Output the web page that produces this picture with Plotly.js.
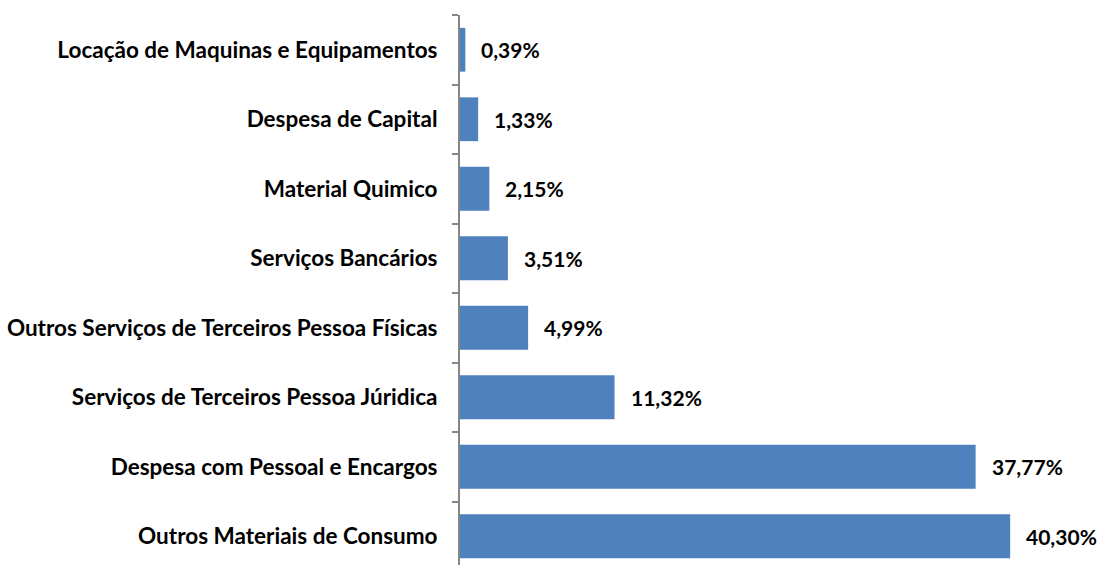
<!DOCTYPE html>
<html>
<head>
<meta charset="utf-8">
<script src="https://cdn.plot.ly/plotly-3.0.1.min.js"></script>
<style>
html, body { margin: 0; padding: 0; overflow: hidden; background: #fff; }
</style>
</head>
<body>
<div id="myDiv"></div>
<script>
// categories, top to bottom
var categorias = [
    'Locação de Maquinas e Equipamentos',
    'Despesa de Capital',
    'Material Quimico',
    'Serviços Bancários',
    'Outros Serviços de Terceiros Pessoa Físicas',
    'Serviços de Terceiros Pessoa Júridica',
    'Despesa com Pessoal e Encargos',
    'Outros Materiais de Consumo'
];
var percentuais = [0.39, 1.33, 2.15, 3.51, 4.99, 11.32, 37.77, 40.30];

var rotulos = percentuais.map(function (v) {
    return v.toFixed(2).replace('.', ',') + '%';
});

var data = [{
    type: 'bar',
    orientation: 'h',
    x: percentuais,
    y: categorias,
    marker: { color: '#4F81BD' },
    hoverinfo: 'none'
}];

var anotacoes = [];
for (var i = 0; i < categorias.length; i++) {
    anotacoes.push({
        x: percentuais[i],
        y: categorias[i],
        text: '<b>' + rotulos[i] + '</b>',
        showarrow: false,
        xanchor: 'left',
        xshift: 14,
        font: { family: 'Lato, sans-serif', size: 21, color: '#000' }
    });
}

var layout = {
    width: 1101,
    height: 571,
    margin: { l: 460, r: 13, t: 15, b: 0 },
    paper_bgcolor: '#fff',
    plot_bgcolor: '#fff',
    showlegend: false,
    bargap: 0.37,
    font: { family: 'Lato, sans-serif', size: 18, color: '#000' },
    xaxis: {
        range: [0, 46],
        visible: false,
        showgrid: false,
        zeroline: false
    },
    yaxis: {
        autorange: 'reversed',
        showline: true,
        linecolor: '#868686',
        linewidth: 2,
        ticks: 'outside',
        tickson: 'boundaries',
        ticklen: 6,
        tickcolor: '#868686',
        tickwidth: 2,
        ticklabelstandoff: 16,
        tickfont: { family: 'Lato, sans-serif', size: 22.5, color: '#000', weight: 'bold' },
        showgrid: false,
        zeroline: false
    },
    annotations: anotacoes
};

Plotly.newPlot('myDiv', data, layout, { displayModeBar: false, staticPlot: true });
</script>
</body>
</html>
